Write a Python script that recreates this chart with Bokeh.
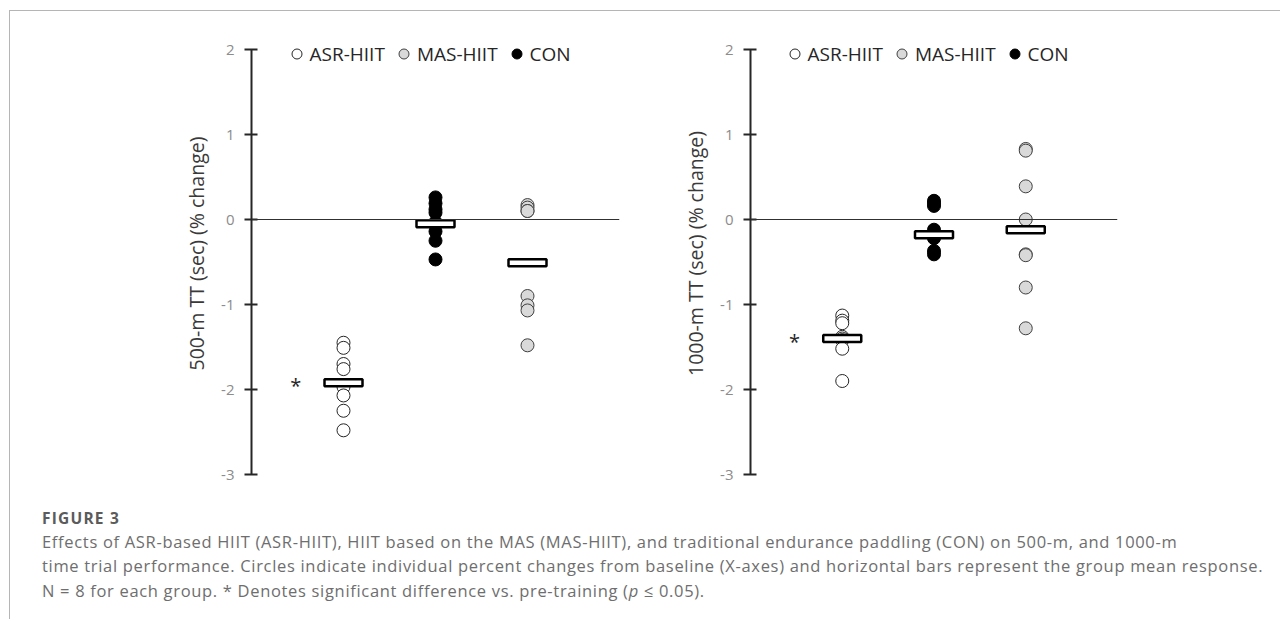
from bokeh.plotting import figure
from bokeh.models import Span, Legend, LegendItem, Div, FixedTicker, Range1d
from bokeh.layouts import row, column
from bokeh.embed import file_html
from bokeh.resources import INLINE
from bokeh.core.properties import value

# ---- data ----
groups = ["ASR-HIIT", "CON", "MAS-HIIT"]
group_x = [1, 2, 3]
legend_labels = ["ASR-HIIT", "MAS-HIIT", "CON"]
y_ticks = [-3, -2, -1, 0, 1, 2]
y_tick_labels = ["-3", "-2", "-1", "0", "1", "2"]

asr_500 = [-1.45, -1.51, -1.70, -1.76, -1.97, -2.07, -2.25, -2.48]
con_500 = [0.26, 0.19, 0.12, 0.08, -0.03, -0.14, -0.25, -0.47]
mas_500 = [0.17, 0.14, 0.10, 0.10, -0.90, -1.01, -1.07, -1.48]
mean_500 = [-1.92, -0.05, -0.51]

asr_1000 = [-1.13, -1.19, -1.22, -1.38, -1.40, -1.42, -1.52, -1.90]
con_1000 = [0.22, 0.19, 0.16, -0.12, -0.17, -0.22, -0.37, -0.41]
mas_1000 = [0.83, 0.81, 0.39, 0.00, -0.41, -0.42, -0.80, -1.28]
mean_1000 = [-1.40, -0.18, -0.12]

FONT = "Open Sans"


def make_panel(ylabel, asr, con, mas, means, width, bl, br, leg_x, leg_y):
    p = figure(width=width, height=480, output_backend="svg", toolbar_location=None,
               x_range=Range1d(0, 4), y_range=Range1d(-3, 2.2),
               min_border_left=bl, min_border_right=br, min_border_top=21,
               min_border_bottom=17)
    p.outline_line_color = None
    p.xgrid.visible = False
    p.ygrid.visible = False
    p.xaxis.visible = False
    p.background_fill_color = None
    p.border_fill_color = None

    ax = p.yaxis[0]
    ax.bounds = (y_ticks[0], y_ticks[-1])
    ax.ticker = FixedTicker(ticks=y_ticks)
    ax.major_label_overrides = dict(zip(y_ticks, y_tick_labels))
    ax.minor_tick_line_color = None
    ax.axis_line_color = "#262626"
    ax.axis_line_width = 2
    ax.major_tick_line_color = "#262626"
    ax.major_tick_line_width = 2
    ax.major_tick_in = 6
    ax.major_tick_out = 7
    ax.major_label_standoff = 10
    ax.major_label_text_font = FONT
    ax.major_label_text_font_size = "15px"
    ax.major_label_text_color = "#8c8c8c"
    ax.axis_label = ylabel
    ax.axis_label_text_font = FONT
    ax.axis_label_text_font_size = "19.5px"
    ax.axis_label_text_font_style = "normal"
    ax.axis_label_text_color = "#3a3a3a"
    ax.axis_label_standoff = 8

    p.add_layout(Span(location=0, dimension="width", line_color="#303030", line_width=1.2))

    r_asr = p.scatter([group_x[0]] * len(asr), asr, size=13, fill_color="white",
                      line_color="#262626", line_width=1)
    r_con = p.scatter([group_x[1]] * len(con), con, size=13, fill_color="black",
                      line_color="black", line_width=1)
    r_mas = p.scatter([group_x[2]] * len(mas), mas, size=13, fill_color="#d9d9d9",
                      line_color="#404040", line_width=1)

    p.rect(x=group_x, y=means, width=38, height=7, width_units="screen",
           height_units="screen", fill_color="white", line_color="black", line_width=2.5)

    p.text(x=[group_x[0] - 0.52], y=[means[0]], text=["*"], text_font=value(FONT),
           text_font_size="20px", text_align="center", text_baseline="middle",
           y_offset=3, text_color="#262626")

    legend = Legend(items=[LegendItem(label=legend_labels[0], renderers=[r_asr]),
                           LegendItem(label=legend_labels[1], renderers=[r_mas]),
                           LegendItem(label=legend_labels[2], renderers=[r_con])],
                    location=(leg_x, leg_y), orientation="horizontal",
                    glyph_width=25, glyph_height=25, label_standoff=1, spacing=6,
                    padding=0, margin=0, border_line_color=None,
                    background_fill_alpha=0, label_text_font=FONT,
                    label_text_font_size="19px", label_text_color="#262626")
    p.add_layout(legend)
    return p


p1 = make_panel("500-m TT (sec) (% change)", asr_500, con_500, mas_500, mean_500,
                630, 241, 21, 32.5, 407.5)
p2 = make_panel("1000-m TT (sec) (% change)", asr_1000, con_1000, mas_1000, mean_1000,
                630, 110, 153, 31.5, 407.5)

caption = Div(width=1260, height=118, text=(
    "<div style=\"font-family:'Open Sans',sans-serif; padding-left:27px; padding-top:12px;\">"
    "<div style='font-weight:700; font-size:15.5px; letter-spacing:1.2px; line-height:21.5px; color:#5b5b5b;'>FIGURE 3</div>"
    "<div style='font-size:16.5px; letter-spacing:0.68px; line-height:24.5px; color:#6e6e6e; white-space:nowrap;'>"
    "Effects of ASR-based HIIT (ASR-HIIT), HIIT based on the MAS (MAS-HIIT), and traditional "
    "endurance paddling (CON) on 500-m, and 1000-m<br>"
    "time trial performance. Circles indicate individual percent changes from baseline (X-axes) "
    "and horizontal bars represent the group mean response.<br>"
    "N = 8 for each group. * Denotes significant difference vs. pre-training (<i>p</i> &le; 0.05)."
    "</div></div>"))

layout = column(row(p1, p2), caption, margin=(10, 0, 0, 9),
                styles={"border-top": "1px solid #b5b5b5", "border-left": "1px solid #b5b5b5"})

open("out.html", "w").write(file_html(layout, INLINE))
